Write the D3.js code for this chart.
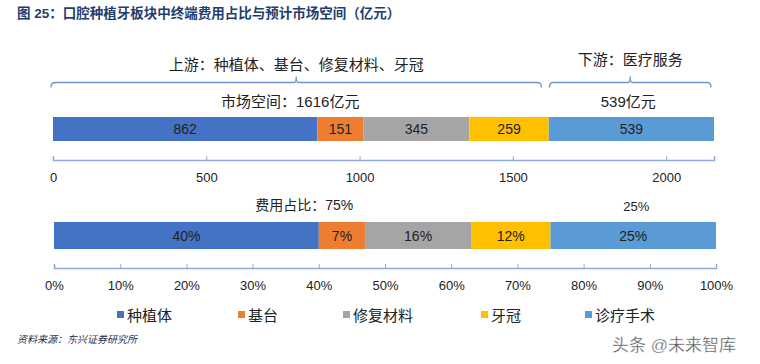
<!DOCTYPE html>
<html>
<head>
<meta charset="utf-8">
<script src="https://cdn.jsdelivr.net/npm/d3@7"></script>
<style>
  body { margin: 0; background: #fff; }
  svg text { font-family: "Liberation Sans", "Noto Sans CJK SC", sans-serif; }
</style>
</head>
<body>
<script>
// chart size
const w = 760;
const h = 364;

// data
const segments = ["种植体", "基台", "修复材料", "牙冠", "诊疗手术"];
const marketValues = [862, 151, 345, 259, 539];
const shareValues = [40, 7, 16, 12, 25];
const colors = ["#4472C4", "#ED7D31", "#A5A5A5", "#FFC000", "#5B9BD5"];
const marketTicks = [0, 500, 1000, 1500, 2000];
const shareTicks = [0, 10, 20, 30, 40, 50, 60, 70, 80, 90, 100];
const upstreamTotal = 1616;
const downstreamTotal = 539;
const upstreamShare = 75;
const downstreamShare = 25;

const cjk = "\"Noto Sans CJK SC\", sans-serif";

const svg = d3.select("body").append("svg")
    .attr("width", w)
    .attr("height", h);

// title
svg.append("text")
    .attr("x", 17).attr("y", 18)
    .attr("font-family", cjk)
    .attr("font-size", 13.5)
    .attr("font-weight", "bold")
    .attr("fill", "#1F3E6E")
    .text("图 25：口腔种植牙板块中终端费用占比与预计市场空间（亿元）");

// stack helper
function stackUp(values) {
  let acc = 0;
  return values.map((v, i) => {
    const d = {i: i, v: v, x0: acc, x1: acc + v};
    acc += v;
    return d;
  });
}

// ---------- top chart: market size ----------
const marketTotal = d3.sum(marketValues);
const xTop = d3.scaleLinear().domain([0, marketTotal]).range([53, 714]);
const topBarY = 117, topBarH = 24;

svg.append("g").selectAll("rect")
    .data(stackUp(marketValues))
    .enter().append("rect")
    .attr("x", d => xTop(d.x0))
    .attr("width", d => xTop(d.x1) - xTop(d.x0))
    .attr("y", topBarY)
    .attr("height", topBarH)
    .attr("fill", d => colors[d.i]);

svg.append("g").selectAll("text")
    .data(stackUp(marketValues))
    .enter().append("text")
    .attr("x", d => (xTop(d.x0) + xTop(d.x1)) / 2)
    .attr("y", topBarY + topBarH / 2 + 5)
    .attr("text-anchor", "middle")
    .attr("font-size", 14)
    .attr("fill", "#222")
    .text(d => d.v);

const topAxis = svg.append("g")
    .attr("transform", "translate(0,160)")
    .call(d3.axisBottom(xTop).tickValues(marketTicks).tickFormat(d3.format("d"))
      .tickSizeInner(-4).tickSizeOuter(-4).tickPadding(13));
topAxis.select(".domain").attr("stroke", "#8EA9DB").attr("stroke-width", 1.5);
topAxis.selectAll(".tick line").attr("stroke", "#8EA9DB");
topAxis.selectAll("text").attr("font-size", 13).attr("fill", "#222")
    .attr("font-family", "Liberation Sans, sans-serif");

// brackets over the top bar
function bracket(x0, x1, y) {
  const mid = (x0 + x1) / 2;
  const p = d3.path();
  p.moveTo(x0, y + 5);
  p.quadraticCurveTo(x0, y, x0 + 4, y);
  p.lineTo(mid - 2, y);
  p.quadraticCurveTo(mid, y, mid, y - 6);
  p.quadraticCurveTo(mid, y, mid + 2, y);
  p.lineTo(x1 - 4, y);
  p.quadraticCurveTo(x1, y, x1, y + 5);
  svg.append("path")
      .attr("d", p.toString())
      .attr("fill", "none")
      .attr("stroke", "#6F93CF")
      .attr("stroke-width", 1.3);
  return mid;
}
const upMid = bracket(xTop(0) - 2, xTop(upstreamTotal) - 7, 82.5);
const downMid = bracket(xTop(upstreamTotal) + 1, xTop(marketTotal) - 3, 82.5);

svg.append("text")
    .attr("x", upMid).attr("y", 70)
    .attr("text-anchor", "middle")
    .attr("font-family", cjk).attr("font-size", 15).attr("fill", "#222")
    .text("上游：种植体、基台、修复材料、牙冠");
svg.append("text")
    .attr("x", downMid).attr("y", 65)
    .attr("text-anchor", "middle")
    .attr("font-family", cjk).attr("font-size", 15).attr("fill", "#222")
    .text("下游：医疗服务");

svg.append("text")
    .attr("x", upMid - 6).attr("y", 107)
    .attr("text-anchor", "middle")
    .attr("font-family", cjk).attr("font-size", 15).attr("fill", "#222")
    .text("市场空间：" + upstreamTotal + "亿元");
svg.append("text")
    .attr("x", downMid - 2).attr("y", 107)
    .attr("text-anchor", "middle")
    .attr("font-family", cjk).attr("font-size", 15).attr("fill", "#222")
    .text(downstreamTotal + "亿元");

// ---------- bottom chart: cost share ----------
const xBot = d3.scaleLinear().domain([0, 100]).range([54, 716]);
const botBarY = 222, botBarH = 27;

svg.append("g").selectAll("rect")
    .data(stackUp(shareValues))
    .enter().append("rect")
    .attr("x", d => xBot(d.x0))
    .attr("width", d => xBot(d.x1) - xBot(d.x0))
    .attr("y", botBarY)
    .attr("height", botBarH)
    .attr("fill", d => colors[d.i]);

svg.append("g").selectAll("text")
    .data(stackUp(shareValues))
    .enter().append("text")
    .attr("x", d => (xBot(d.x0) + xBot(d.x1)) / 2)
    .attr("y", botBarY + botBarH / 2 + 5)
    .attr("text-anchor", "middle")
    .attr("font-size", 14)
    .attr("fill", "#222")
    .text(d => d.v + "%");

const botAxis = svg.append("g")
    .attr("transform", "translate(0,268)")
    .call(d3.axisBottom(xBot).tickValues(shareTicks).tickFormat(d => d + "%")
      .tickSizeInner(-4).tickSizeOuter(-4).tickPadding(13));
botAxis.select(".domain").attr("stroke", "#8EA9DB").attr("stroke-width", 1.5);
botAxis.selectAll(".tick line").attr("stroke", "#8EA9DB");
botAxis.selectAll("text").attr("font-size", 13).attr("fill", "#222")
    .attr("font-family", "Liberation Sans, sans-serif");

const upShareMid = (xBot(0) + xBot(upstreamShare)) / 2;
const downShareMid = (xBot(upstreamShare) + xBot(100)) / 2;
svg.append("text")
    .attr("x", upShareMid + 2).attr("y", 210)
    .attr("text-anchor", "middle")
    .attr("font-family", cjk).attr("font-size", 14).attr("fill", "#222")
    .text("费用占比：" + upstreamShare + "%");
svg.append("text")
    .attr("x", downShareMid + 3).attr("y", 211)
    .attr("text-anchor", "middle")
    .attr("font-size", 13).attr("fill", "#222")
    .text(downstreamShare + "%");

// legend
const legendX = [117, 238, 343, 481, 585];
const legend = svg.append("g").selectAll("g")
    .data(segments)
    .enter().append("g")
    .attr("transform", (d, i) => "translate(" + legendX[i] + ",315)");
legend.append("rect")
    .attr("x", 0).attr("y", -4)
    .attr("width", 7).attr("height", 7)
    .attr("fill", (d, i) => colors[i]);
legend.append("text")
    .attr("x", 10).attr("y", 5.5)
    .attr("font-family", cjk).attr("font-size", 15).attr("fill", "#222")
    .text(d => d);

// source note and watermark
svg.append("text")
    .attr("x", 17).attr("y", 343)
    .attr("font-family", cjk).attr("font-size", 10)
    .attr("font-style", "italic")
    .attr("fill", "#1F2F4F")
    .text("资料来源：东兴证券研究所");
svg.append("text")
    .attr("x", 612).attr("y", 351)
    .attr("font-family", cjk).attr("font-size", 17)
    .attr("fill", "#555")
    .attr("stroke", "#fff").attr("stroke-width", 0.3)
    .text("头条 @未来智库");
</script>
</body>
</html>
